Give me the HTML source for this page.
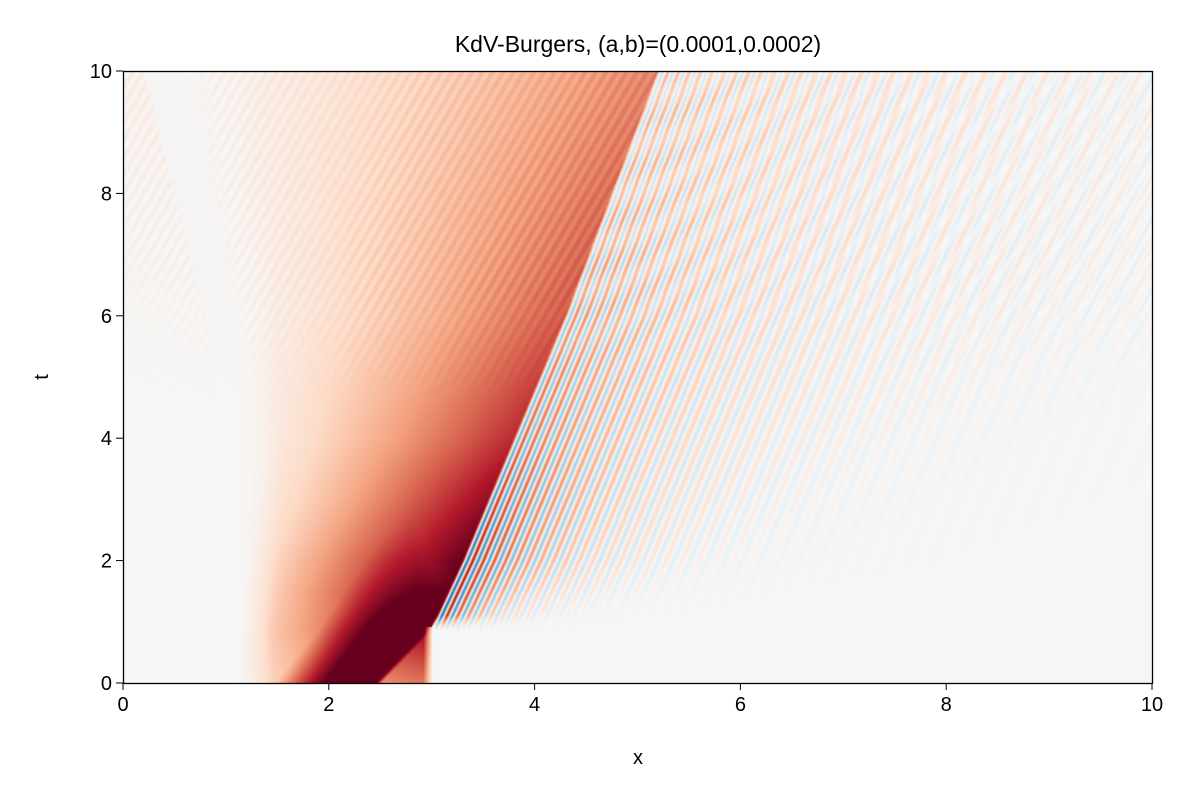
<!DOCTYPE html>
<html><head><meta charset="utf-8">
<style>
body{margin:0;background:#fff;width:1200px;height:800px;overflow:hidden;font-family:"Liberation Sans","DejaVu Sans",sans-serif;}
#hm{position:absolute;left:123px;top:71px;}
svg{position:absolute;left:0;top:0;}
</style></head>
<body>
<canvas id="hm" width="1029" height="612"></canvas>
<svg width="1200" height="800">
<text x="638" y="52" font-size="23" text-anchor="middle">KdV-Burgers, (a,b)=(0.0001,0.0002)</text>
<rect x="123.5" y="71.5" width="1029" height="612" fill="none" stroke="#000" stroke-width="1.3"/>
<g id="xt"></g>
<g id="yt"></g>
<text x="638" y="764" font-size="20" text-anchor="middle">x</text>
<text x="48" y="377" font-size="20" text-anchor="middle" transform="rotate(-90 48 377)">t</text>
</svg>
<script>
// data arrays
const ticks=[0,2,4,6,8,10];
const frontT=[0,0.92,2,4,6,8,10];
const frontX=[3.0,3.0,3.3,3.8,4.3,4.75,5.2];
const leftT=[0,2,4,6,8,10];
const leftX=[1.07,1.05,1.0,0.8,0.5,0.2];
const peakT=[0,0.9,1.5,2,3,4,6,8,10];
const peakV=[0.55,0.9,1.0,1.0,0.88,0.75,0.62,0.56,0.5];
const powT=[0,1,3,6,10];
const powV=[0.55,0.8,1.1,1.25,1.3];
const coreT=[0,0.9,1.5,2.2,3,4];
const coreV=[1.3,1.2,1.0,0.8,0.6,0];
const coreLeftT=[0,0.92,2,3];
const coreLeftX=[1.82,2.27,2.7,3.2];
const coreRightT=[0,0.92];
const coreRightX=[2.47,3.0];
const oscT=[0.9,2,4,6,8,10];
const oscA=[0.9,0.8,0.55,0.4,0.3,0.25];
const widthT=[0.9,2,4,6,10];
const widthV=[0.3,0.9,1.5,2.2,3.2];

const X0=123,Y0=683,SX=102.9,SY=61.2;
const sx=x=>X0+x*SX, sy=t=>Y0-t*SY;
function interp(xs,ys,v){if(v<=xs[0])return ys[0];for(let i=1;i<xs.length;i++){if(v<=xs[i]){const f=(v-xs[i-1])/(xs[i]-xs[i-1]);return ys[i-1]+f*(ys[i]-ys[i-1]);}}return ys[ys.length-1];}
const clamp=v=>Math.max(0,Math.min(1,v));

const ns="http://www.w3.org/2000/svg";
const xt=document.getElementById('xt'),yt=document.getElementById('yt');
ticks.forEach(v=>{
  let l=document.createElementNS(ns,'line');l.setAttribute('x1',sx(v));l.setAttribute('x2',sx(v));l.setAttribute('y1',Y0+0.5);l.setAttribute('y2',Y0+7);l.setAttribute('stroke','#000');
  
  xt.appendChild(l);
  let t=document.createElementNS(ns,'text');t.setAttribute('x',sx(v));t.setAttribute('y',Y0+28);t.setAttribute('font-size','20');t.setAttribute('text-anchor','middle');t.textContent=v;
  
  xt.appendChild(t);
  let l2=document.createElementNS(ns,'line');l2.setAttribute('x1',X0-7);l2.setAttribute('x2',X0+0.5);l2.setAttribute('y1',sy(v));l2.setAttribute('y2',sy(v));l2.setAttribute('stroke','#000');
  
  yt.appendChild(l2);
  let t2=document.createElementNS(ns,'text');t2.setAttribute('x',X0-11);t2.setAttribute('y',sy(v)+7);t2.setAttribute('font-size','20');t2.setAttribute('text-anchor','end');t2.textContent=v;
  
  yt.appendChild(t2);
});

const cm=[[5,48,97],[33,102,172],[67,147,195],[146,197,222],[209,229,240],[247,247,247],[253,219,199],[244,165,130],[214,96,77],[178,24,43],[103,0,31]];
function color(v){let p=(Math.max(-1,Math.min(1,v))+1)/2*10;let i=Math.min(9,Math.floor(p)),f=p-i;const a=cm[i],b=cm[i+1];return [a[0]+f*(b[0]-a[0]),a[1]+f*(b[1]-a[1]),a[2]+f*(b[2]-a[2])];}

const cv=document.getElementById('hm'),ctx=cv.getContext('2d');
const W=cv.width,H=cv.height,img=ctx.createImageData(W,H);
for(let py=0;py<H;py++){
  const t=10-(py+0.5)/SY;
  const R=interp(frontT,frontX,t),L=interp(leftT,leftX,t),A=interp(peakT,peakV,t);
  const B=interp(oscT,oscA,t),Wd=interp(widthT,widthV,t),C=interp(coreT,coreV,t);
  const P=interp(powT,powV,t);
  const cl=interp(coreLeftT,coreLeftX,t);
  const cr=t<0.92?interp(coreRightT,coreRightX,t):R+1;
  const bg=clamp((t-4.5)/2)*0.04;
  for(let px=0;px<W;px++){
    const x=(px+0.5)/SX;let v=0;
    if(x<R){
      const s=(x-L)/(R-L);
      if(s>0){v=A*Math.pow(s,P)*clamp(s/0.2);}
      else v=0.06*Math.max(0,(t-4))/6*Math.exp(s*3);
      if(C>0){
        const k=clamp((x-cl)/0.7+0.5)*clamp((cr-x)/0.08+0.5);
        v=v+(Math.max(v,C)-v)*k;
      }
      if(t<0.92) v*=clamp((R+0.02-x)/0.1);
      v+=bg*Math.cos(2*Math.PI*(x-0.35*t)/0.1);
    }else{
      const d=x-R;
      if(t>0.85){
        const env=Math.exp(-d/Wd)*Math.min(1,(t-0.85)*4);
        const ph=2*Math.PI*d/(0.1*(1+0.12*d));
        v=B*env*Math.cos(ph)+0.08*env;
      }
      v+=bg*Math.cos(2*Math.PI*(x-0.35*t)/0.1)-0.01;
    }
    const c=color(v),k=(py*W+px)*4;
    img.data[k]=c[0];img.data[k+1]=c[1];img.data[k+2]=c[2];img.data[k+3]=255;
  }
}
ctx.putImageData(img,0,0);
</script>
</body></html>
